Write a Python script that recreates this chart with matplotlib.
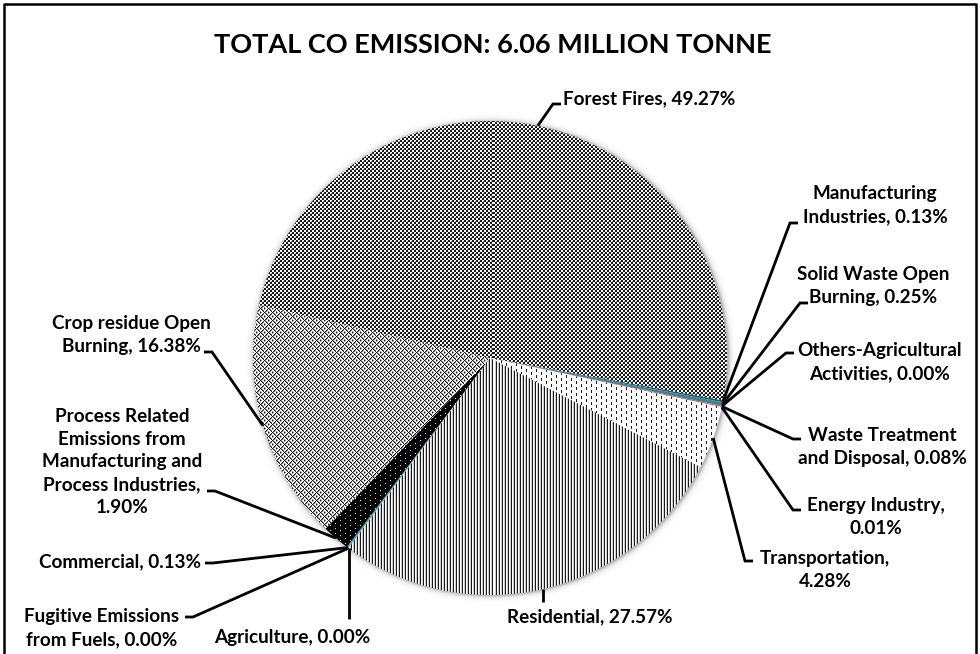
import numpy as np
import matplotlib
matplotlib.use("Agg")
import matplotlib.pyplot as plt
from matplotlib.lines import Line2D

# ---------------- data ----------------
categories = [
    "Manufacturing\nIndustries",
    "Solid Waste Open\nBurning",
    "Others-Agricultural\nActivities",
    "Waste Treatment\nand Disposal",
    "Energy Industry",
    "Transportation",
    "Residential",
    "Agriculture",
    "Fugitive Emissions\nfrom Fuels",
    "Commercial",
    "Process Related\nEmissions from\nManufacturing and\nProcess Industries",
    "Crop residue Open\nBurning",
    "Forest Fires",
]
shares = [0.13, 0.25, 0.00, 0.08, 0.01, 4.28, 27.57, 0.00, 0.00, 0.13, 1.90, 16.38, 49.27]
value_on_new_line = {"Energy Industry", "Transportation",
                     "Process Related\nEmissions from\nManufacturing and\nProcess Industries"}
title = "TOTAL CO EMISSION: 6.06 MILLION TONNE"

# ---------------- canvas ----------------
W, H = 980, 654
fig = plt.figure(figsize=(W / 100, H / 100), dpi=100)
ax = fig.add_axes([0, 0, 1, 1])
FONT = ["Lato", "DejaVu Sans"]


def Y(y):
    """top-down pixel row -> axis y"""
    return H - y


CX, CY_TOP, R = 490, 358, 237
CY = Y(CY_TOP)
START = -10.3

# ---------------- fill textures ----------------
yy, xx = np.mgrid[0:H, 0:W]


def tex_forest():
    t = np.ones((H, W))
    t[((xx // 2 + yy // 2) % 2 == 0)] = 0.1
    t[((xx % 4 == 3) & (yy % 4 == 1))] = 0.6
    return t


def tex_crop():
    t = np.ones((H, W))
    blk = ((xx // 4) + (yy // 4)) % 2
    a = ((xx - yy) % 4 == 0) & (blk == 0)
    b = ((xx + yy) % 4 == 0) & (blk == 1)
    a2 = ((xx - yy) % 4 == 1) & (blk == 0)
    b2 = ((xx + yy) % 4 == 1) & (blk == 1)
    t[a | b] = 0.1
    t[a2 | b2] = 0.5
    return t


def tex_resid():
    t = np.ones((H, W))
    t[xx % 3 == 0] = 0.1
    t[xx % 3 == 2] = 0.8
    return t


def tex_trans():
    t = np.ones((H, W))
    col = xx % 5 == 0
    stag = (yy + 3 * ((xx // 5) % 2)) % 6 < 3
    t[col & stag] = 0.1
    return t


def tex_process():
    t = np.zeros((H, W))
    t[(xx % 5 == 0) & ((yy + 2 * ((xx // 5) % 2)) % 5 == 0)] = 0.9
    return t


textures = {5: tex_trans, 6: tex_resid, 10: tex_process, 11: tex_crop, 12: tex_forest}
solid = {0: "#215968", 1: "#31859C", 2: "#9BBB59", 3: "#D9544F",
         4: "#8064A2", 7: "#F79646", 8: "#4F81BD", 9: "#4BACC6"}

# ---------------- soft shadow ----------------
d = np.hypot(xx - CX, yy - CY_TOP)
alpha = np.where(d > R - 2, 0.28 * np.exp(-np.clip(d - R, 0, None) / 2.2), 0.0)
shadow = np.zeros((H, W, 4))
shadow[..., 3] = alpha
ax.imshow(shadow, extent=(0, W, 0, H), origin="upper", zorder=0.5, interpolation="nearest")

# ---------------- pie ----------------
wedges, _ = ax.pie(shares, startangle=START, counterclock=False, center=(CX, CY),
                   radius=R, colors=[solid.get(i, "white") for i in range(len(shares))],
                   wedgeprops=dict(linewidth=0), frame=True)
for i, w in enumerate(wedges):
    w.set_zorder(1)
    if i in textures:
        w.set_facecolor("none")
        im = ax.imshow(textures[i](), extent=(0, W, 0, H), origin="upper", cmap="gray",
                       vmin=0, vmax=1, interpolation="nearest", zorder=1)
        im.set_clip_path(w)

# ---------------- data labels ----------------
# text anchor (x, y in pixel rows), alignment, elbow point, tick direction
layout = {
    0: (875, 205, "center", (790, 223), 1),
    1: (873, 286, "center", (800, 303), 1),
    2: (880, 362, "center", (786, 353), 1),
    3: (882, 447, "center", (793, 439), 1),
    4: (876, 517, "center", (793, 510), 1),
    5: (825, 570, "center", (745, 561), 1),
    6: (590, 617, "center", None, 602),
    7: (292, 637, "center", None, 619),
    8: (102, 628, "center", (193, 617), -1),
    9: (120, 562, "center", (213, 563), -1),
    10: (122, 462, "center", (215, 491), -1),
    11: (131, 335, "center", (212, 352), -1),
    12: (563, 99, "left", (553, 104), 1),
}

for i, (name, v) in enumerate(zip(categories, shares)):
    sep = ",\n" if name in value_on_new_line else ", "
    txt = f"{name}{sep}{v:.2f}%"
    tx, ty, ha, elbow, tdir = layout[i]
    ax.text(tx, Y(ty), txt, ha=ha, va="center", fontsize=13.6, fontweight="bold",
            family=FONT, color="black", linespacing=1.42, zorder=5,
            multialignment="center")
    w = wedges[i]
    mid = np.deg2rad((w.theta1 + w.theta2) / 2)
    ex, ey = CX + R * np.cos(mid), CY + R * np.sin(mid)
    if elbow is None:
        xs, ys = [ex, ex], [ey, Y(tdir)]
    else:
        bx, by = elbow
        xs = [ex, bx, bx + 8 * tdir]
        ys = [ey, Y(by), Y(by)]
    ax.add_line(Line2D(xs, ys, color="black", lw=2.0, solid_capstyle="butt",
                       solid_joinstyle="miter", zorder=4))

# ---------------- title and frame ----------------
ax.text(493, Y(45), title, ha="center", va="center", fontsize=19.5, fontweight="bold",
        family=FONT, color="black", zorder=5)
ax.add_line(Line2D([4, 4, 976, 976], [-5, Y(4), Y(4), -5], color="black", lw=1.8, zorder=6))

ax.set_xlim(0, W)
ax.set_ylim(0, H)
ax.set_aspect("auto")
ax.axis("off")
fig.savefig("out.png", dpi=100, facecolor="white")
